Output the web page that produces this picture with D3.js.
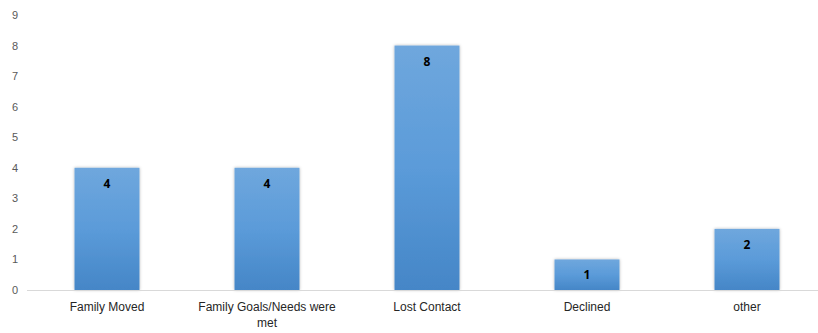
<!DOCTYPE html>
<html>
<head>
<meta charset="utf-8">
<script src="https://cdn.jsdelivr.net/npm/d3@7"></script>
<style>
  body { margin: 0; background: #fff; }
  svg { display: block; font-family: "Open Sans", "Liberation Sans", sans-serif; }
</style>
</head>
<body>
<svg id="chart"></svg>
<script>
const categories = ["Family Moved", "Family Goals/Needs were met", "Lost Contact", "Declined", "other"];
const counts = [4, 4, 8, 1, 2];
const yTicks = [0, 1, 2, 3, 4, 5, 6, 7, 8, 9];

const WIDTH = 818, HEIGHT = 333;
const margin = {top: 15, right: -9, bottom: 43, left: 27};

const svg = d3.select("#chart").attr("width", WIDTH).attr("height", HEIGHT);

const defs = svg.append("defs");
const grad = defs.append("linearGradient")
    .attr("id", "barGrad")
    .attr("x1", 0).attr("y1", 0).attr("x2", 0).attr("y2", 1);
grad.append("stop").attr("offset", "0%").attr("stop-color", "#6fa7dd");
grad.append("stop").attr("offset", "50%").attr("stop-color", "#5b9bd9");
grad.append("stop").attr("offset", "100%").attr("stop-color", "#4586c7");

const shadow = defs.append("filter").attr("id", "shadow")
    .attr("x", "-20%").attr("y", "-10%").attr("width", "140%").attr("height", "120%");
shadow.append("feDropShadow")
    .attr("dx", 0).attr("dy", 0).attr("stdDeviation", 1.5)
    .attr("flood-color", "#000").attr("flood-opacity", 0.3);

const x = d3.scaleBand()
    .domain(categories)
    .range([margin.left, WIDTH - margin.right])
    .paddingInner(0.594)
    .paddingOuter(0.297);

const y = d3.scaleLinear()
    .domain([0, 9])
    .range([HEIGHT - margin.bottom, margin.top]);

// y axis labels (no axis line)
const yAxis = svg.append("g")
    .attr("transform", `translate(${margin.left}, 0)`)
    .call(d3.axisLeft(y).tickValues(yTicks).tickSize(0).tickPadding(9).tickFormat(d3.format("d")));
yAxis.select(".domain").remove();
yAxis.selectAll("text")
    .attr("fill", "#595959")
    .style("font-size", "11px");

// bars
svg.selectAll(".bar")
    .data(categories)
    .enter()
    .append("rect")
    .attr("class", "bar")
    .attr("x", (d) => x(d))
    .attr("y", (d, i) => y(counts[i]))
    .attr("width", x.bandwidth())
    .attr("height", (d, i) => y(0) - y(counts[i]))
    .attr("fill", "url(#barGrad)")
    .attr("filter", "url(#shadow)");

// x axis
const xAxis = svg.append("g")
    .attr("transform", `translate(0, ${y(0)})`)
    .call(d3.axisBottom(x).tickSize(0).tickPadding(12));
xAxis.select(".domain")
    .attr("stroke", "#d9d9d9")
    .attr("d", `M${margin.left},0.5H${WIDTH}`);
xAxis.selectAll("text")
    .attr("fill", "#262626")
    .style("font-size", "12px")
    .call(wrap, 148);

// value labels
svg.selectAll(".label")
    .data(categories)
    .enter()
    .append("text")
    .attr("class", "label")
    .attr("x", (d) => x(d) + x.bandwidth() / 2)
    .attr("y", (d, i) => y(counts[i]) + 20)
    .attr("text-anchor", "middle")
    .attr("font-weight", "bold")
    .attr("font-size", "12px")
    .attr("fill", "#000")
    .text((d, i) => counts[i]);

function wrap(text, width) {
    text.each(function () {
        const t = d3.select(this);
        const words = t.text().split(/\s+/).reverse();
        const yy = t.attr("y");
        const dy = parseFloat(t.attr("dy"));
        let line = [];
        let lineNumber = 0;
        let word;
        let tspan = t.text(null).append("tspan").attr("x", 0).attr("y", yy).attr("dy", dy + "em");
        while ((word = words.pop())) {
            line.push(word);
            tspan.text(line.join(" "));
            if (tspan.node().getComputedTextLength() > width && line.length > 1) {
                line.pop();
                tspan.text(line.join(" "));
                line = [word];
                tspan = t.append("tspan").attr("x", 0).attr("y", yy)
                    .attr("dy", (++lineNumber * 1.35 + dy) + "em").text(word);
            }
        }
    });
}
</script>
</body>
</html>
